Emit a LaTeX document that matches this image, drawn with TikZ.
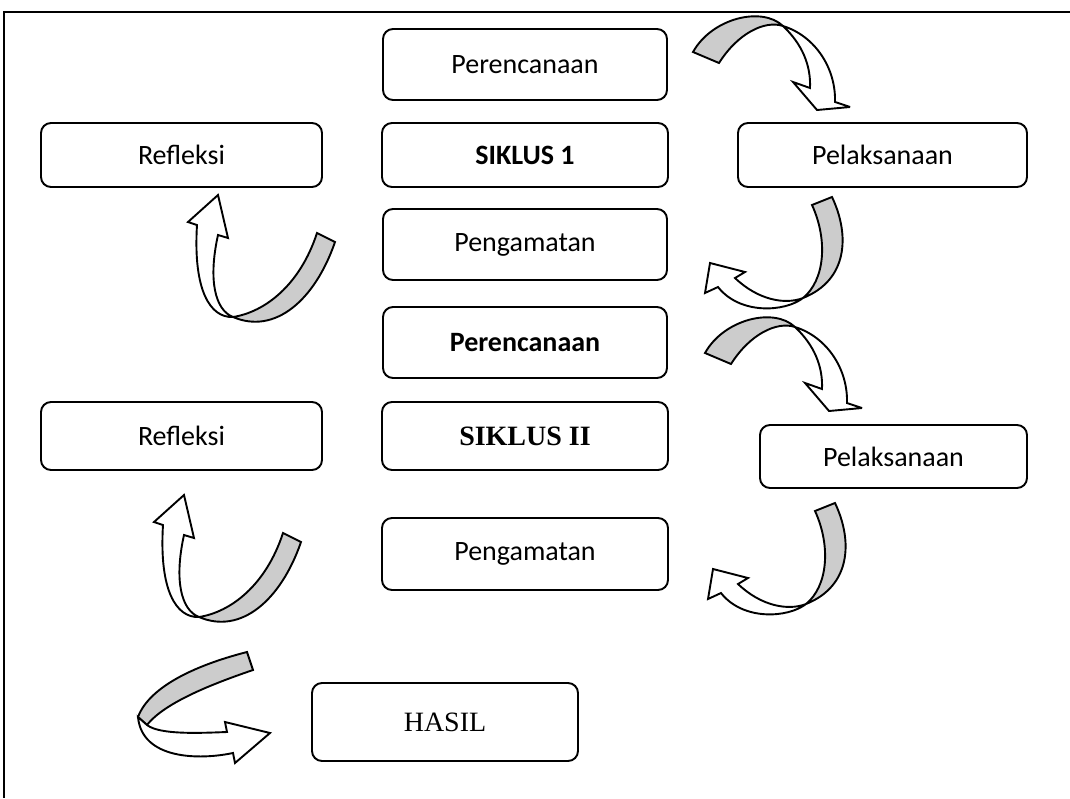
\documentclass[tikz,border=0pt]{standalone}
\usepackage{fontspec}
\setmainfont{Carlito}
\newfontfamily\timesfont{Liberation Serif}
\definecolor{band}{RGB}{204,204,204}
\begin{document}
\begin{tikzpicture}[x=1pt,y=-1pt,
  box/.style={draw, line width=1.9pt, rounded corners=10pt, inner sep=0pt, font=\fontsize{28}{32}\selectfont},
  ribbon/.style={draw, line width=1.9pt, line join=miter, miter limit=4},
  back/.style={ribbon, fill=band},
  front/.style={ribbon, fill=white}]
\useasboundingbox (0,0) rectangle (1070,798);
% frame lines
\draw[line width=2.4pt] (1070,12) -- (4,12) -- (4,798);

% boxes
\node[box, minimum width=284pt, minimum height=71pt] (per1) at (525,64.5) {Perencanaan};
\node[box, minimum width=286pt, minimum height=64pt] (sik1) at (525,155) {\bfseries SIKLUS 1};
\node[box, minimum width=281pt, minimum height=64pt] (ref1) at (181.5,155) {Refleksi};
\node[box, minimum width=289pt, minimum height=64pt] (pel1) at (882.5,155) {Pelaksanaan};
\node[box, minimum width=284pt, minimum height=71pt] (peng1) at (525,244.5) {Pengamatan};
\node[box, minimum width=284pt, minimum height=71pt] (per2) at (525,342.5) {\bfseries Perencanaan};
\node[box, minimum width=281pt, minimum height=68pt] (ref2) at (181.5,436) {Refleksi};
\node[box, minimum width=286pt, minimum height=68pt] (sik2) at (525,436) {\timesfont\bfseries SIKLUS II};
\node[box, minimum width=267pt, minimum height=63pt] (pel2) at (893.5,456.5) {Pelaksanaan};
\node[box, minimum width=286pt, minimum height=72pt] (peng2) at (525,554) {Pengamatan};
\node[box, minimum width=266pt, minimum height=78pt] (hasil) at (445,722) {\timesfont HASIL};

% Type A: curved down arrows (Perencanaan -> Pelaksanaan)
\foreach \sx/\sy in {0/0, 12/301}{
\begin{scope}[shift={(\sx,\sy)}]
\path[back] (693,52) .. controls (712,18) and (762,6) .. (783,26)
  .. controls (765,20) and (738,33) .. (719,63) -- cycle;
\path[front] (783,26) .. controls (802,44) and (811,65) .. (810,88)
  -- (793,82) -- (817,110) -- (850,107) -- (835,102)
  .. controls (836,68) and (815,36) .. (783,26) -- cycle;
\end{scope}}

% Type B: curved left arrows (Pelaksanaan -> Pengamatan)
\foreach \sx/\sy in {0/0, 3/306}{
\begin{scope}[shift={(\sx,\sy)}]
\path[back] (832,197) .. controls (850,235) and (848,280) .. (803,298)
  .. controls (825,280) and (828,240) .. (812,205) -- cycle;
\path[front] (803,298) .. controls (785,305) and (758,300) .. (735,278)
  -- (745,272) -- (710,263) -- (705,293) -- (718,287)
  .. controls (740,315) and (785,312) .. (803,298) -- cycle;
\end{scope}}

% Type C: curved up arrows (Pengamatan -> Refleksi)
\foreach \sx/\sy in {0/0, -34/300}{
\begin{scope}[shift={(\sx,\sy)}]
\path[back] (317,233) .. controls (300,285) and (265,312) .. (233,317)
  .. controls (275,335) and (315,300) .. (335,242) -- cycle;
\path[front] (233,317) .. controls (210,318) and (193,290) .. (197,225)
  -- (188,222) -- (218,195) -- (228,238) -- (218,235)
  .. controls (208,280) and (215,310) .. (233,317) -- cycle;
\end{scope}}

% Type D: curved right arrow (Refleksi -> HASIL)
\path[back] (247,652) .. controls (200,664) and (150,685) .. (138,717)
  -- (147,725) .. controls (165,702) and (215,683) .. (253,670) -- cycle;
\path[front] (138,717) .. controls (142,760) and (200,760) .. (233,753)
  -- (235,763) -- (270,733) -- (225,722) -- (227,732)
  .. controls (200,733) and (160,735) .. (147,725) -- cycle;
\end{tikzpicture}
\end{document}
